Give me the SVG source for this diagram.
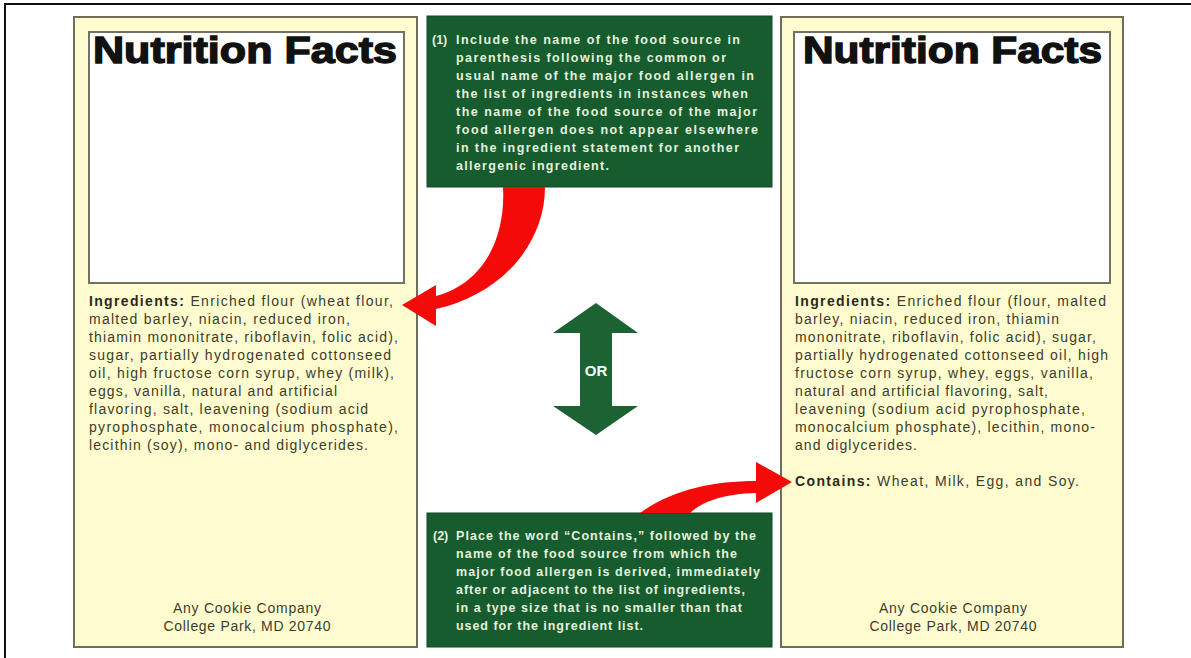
<svg xmlns="http://www.w3.org/2000/svg" width="1191" height="658" viewBox="0 0 1191 658">
<style>
.panel{fill:#fffdd0;stroke:#6e6e5a;stroke-width:2}
.inner{fill:#ffffff;stroke:#727262;stroke-width:2}
.nf{font-family:"Liberation Sans",Arial,sans-serif;font-weight:bold;font-size:37px;fill:#111;stroke:#111;stroke-width:1.4}
.ing{font-family:"Liberation Sans",Arial,sans-serif;font-size:14px;fill:#3c3c2c}
.b{font-weight:bold;fill:#2a2a20}
.foot{font-family:"Liberation Sans",Arial,sans-serif;font-size:14px;fill:#3c3c2c;text-anchor:middle}
.gbox{fill:#175c2f;stroke:#0f4a24;stroke-width:1}
.gt{font-family:"Liberation Sans",Arial,sans-serif;font-size:12.5px;font-weight:bold;fill:#e4f1dc}
.red{fill:#f50a0a}
</style>
<g id="frame" fill="none" stroke="#111" stroke-width="2">
<path d="M5 658 V4 H1191"/>
</g>
<g id="panel-left">
<rect class="panel" x="74" y="17" width="343" height="630"/>
<rect class="inner" x="89" y="32" width="315" height="251"/>
<text class="nf" x="93" y="63" textLength="304" lengthAdjust="spacingAndGlyphs">Nutrition Facts</text>
<text class="ing" x="89" y="306" textLength="304"><tspan class="b">Ingredients:</tspan>  Enriched flour (wheat flour,</text>
<text class="ing" x="89" y="324" textLength="261">malted barley, niacin, reduced iron,</text>
<text class="ing" x="89" y="342" textLength="309">thiamin mononitrate, riboflavin, folic acid),</text>
<text class="ing" x="89" y="360" textLength="302">sugar, partially hydrogenated cottonseed</text>
<text class="ing" x="89" y="378" textLength="305">oil, high fructose corn syrup, whey (milk),</text>
<text class="ing" x="89" y="396" textLength="248">eggs, vanilla, natural and artificial</text>
<text class="ing" x="89" y="414" textLength="279">flavoring, salt, leavening (sodium acid</text>
<text class="ing" x="89" y="432" textLength="309">pyrophosphate, monocalcium phosphate),</text>
<text class="ing" x="89" y="450" textLength="279">lecithin (soy), mono- and diglycerides.</text>
<text class="foot" x="247" y="613" textLength="148">Any Cookie Company</text>
<text class="foot" x="247" y="631" textLength="167">College Park, MD 20740</text>
</g>
<g id="panel-right">
<rect class="panel" x="781" y="17" width="342" height="630"/>
<rect class="inner" x="794" y="32" width="316" height="251"/>
<text class="nf" x="803" y="63" textLength="299" lengthAdjust="spacingAndGlyphs">Nutrition Facts</text>
<text class="ing" x="795" y="306" textLength="311"><tspan class="b">Ingredients:</tspan>  Enriched flour (flour, malted</text>
<text class="ing" x="795" y="324" textLength="264">barley, niacin, reduced iron, thiamin</text>
<text class="ing" x="795" y="342" textLength="301">mononitrate, riboflavin, folic acid), sugar,</text>
<text class="ing" x="795" y="360" textLength="313">partially hydrogenated cottonseed oil, high</text>
<text class="ing" x="795" y="378" textLength="298">fructose corn syrup, whey, eggs, vanilla,</text>
<text class="ing" x="795" y="396" textLength="253">natural and artificial flavoring, salt,</text>
<text class="ing" x="795" y="414" textLength="290">leavening (sodium acid pyrophosphate,</text>
<text class="ing" x="795" y="432" textLength="300">monocalcium phosphate), lecithin, mono-</text>
<text class="ing" x="795" y="450" textLength="122">and diglycerides.</text>
<text class="ing" x="795" y="486" textLength="284"><tspan class="b">Contains:</tspan>  Wheat, Milk, Egg, and Soy.</text>
<text class="foot" x="953" y="613" textLength="148">Any Cookie Company</text>
<text class="foot" x="953" y="631" textLength="167">College Park, MD 20740</text>
</g>
<g id="note-1">
<rect class="gbox" x="427" y="16" width="345" height="171"/>
<text class="gt" x="432" y="44">(1)</text>
<text class="gt" x="456" y="44" textLength="284">Include the name of the food source in</text>
<text class="gt" x="456" y="62" textLength="270">parenthesis following the common or</text>
<text class="gt" x="456" y="80" textLength="298">usual name of the major food allergen in</text>
<text class="gt" x="456" y="98" textLength="292">the list of ingredients in instances when</text>
<text class="gt" x="456" y="116" textLength="301">the name of the food source of the major</text>
<text class="gt" x="456" y="134" textLength="302">food allergen does not appear elsewhere</text>
<text class="gt" x="456" y="152" textLength="283">in the ingredient statement for another</text>
<text class="gt" x="456" y="170" textLength="153">allergenic ingredient.</text>
</g>
<g id="note-2">
<rect class="gbox" x="427" y="513" width="345" height="134"/>
<text class="gt" x="433" y="540">(2)</text>
<text class="gt" x="456" y="540" textLength="300">Place the word “Contains,” followed by the</text>
<text class="gt" x="456" y="558" textLength="281">name of the food source from which the</text>
<text class="gt" x="456" y="576" textLength="304">major food allergen is derived, immediately</text>
<text class="gt" x="456" y="594" textLength="289">after or adjacent to the list of ingredients,</text>
<text class="gt" x="456" y="612" textLength="286">in a type size that is no smaller than that</text>
<text class="gt" x="456" y="630" textLength="187">used for the ingredient list.</text>
</g>
<g id="or">
<path fill="#1b6332" d="M596 303 L638 333 L612 333 L612 406 L638 406 L596 435 L553 406 L580 406 L580 333 L553 333 Z"/>
<text x="596" y="376" text-anchor="middle" font-family="'Liberation Sans',Arial,sans-serif" font-weight="bold" font-size="15" fill="#ffffff">OR</text>
</g>
<g id="connectors">
<path class="red" d="M503 187 L545 187 C545 245 500 295 436 309 L436 326 L402 305 L436 285 L436 296 C482 284 506 240 503 187 Z"/>
<path class="red" d="M640 513 C672 490 712 481 756 481 L756 462 L792 482 L756 503 L756 493 C722 494 702 502 690 513 Z"/>
</g>
</svg>
